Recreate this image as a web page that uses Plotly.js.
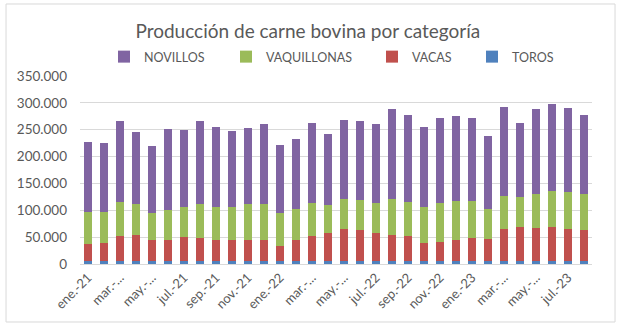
<!DOCTYPE html>
<html>
<head>
<meta charset="utf-8">
<script src="https://cdn.plot.ly/plotly-3.0.1.min.js"></script>
<style>html,body{margin:0;padding:0;background:#fff;}#chart{width:622px;height:330px;}</style>
</head>
<body>
<div id="chart"></div>
<script>
const months = ["ene.-21","feb.-21","mar.-21","abr.-21","may.-21","jun.-21","jul.-21","ago.-21","sep.-21","oct.-21","nov.-21","dic.-21",
"ene.-22","feb.-22","mar.-22","abr.-22","may.-22","jun.-22","jul.-22","ago.-22","sep.-22","oct.-22","nov.-22","dic.-22",
"ene.-23","feb.-23","mar.-23","abr.-23","may.-23","jun.-23","jul.-23","ago.-23"];
const tickVals = ["ene.-21","mar.-21","may.-21","jul.-21","sep.-21","nov.-21","ene.-22","mar.-22","may.-22","jul.-22","sep.-22","nov.-22","ene.-23","mar.-23","may.-23","jul.-23"];
const tickText = ["ene.-21","mar.-...","may.-...","jul.-21","sep.-21","nov.-21","ene.-22","mar.-...","may.-...","jul.-22","sep.-22","nov.-22","ene.-23","mar.-...","may.-...","jul.-23"];

const toros = [6000,6000,6500,6000,6000,6000,6000,6000,6000,6000,6000,6000,6000,6000,6000,6000,6000,6000,6000,6000,6000,6000,6000,6000,6000,6000,6000,6000,6000,6000,6000,6000];
const vacas = [31900,33700,46100,48600,38100,39300,44300,43000,39300,38100,38700,38700,28100,39300,46100,51700,59200,56700,52300,48000,46100,33100,34300,38700,43000,39900,58500,63500,61600,63500,59200,57300];
const vaquillonas = [58900,56500,62700,57100,51500,55200,55200,62700,60200,61400,66400,67000,60200,56500,61500,51500,55800,56500,54700,66400,62700,66400,72700,72600,68300,55900,62100,55200,62700,66400,68800,66400];
const novillos = [129700,129100,150800,134700,124100,151500,144600,154500,149500,142700,142100,149000,127200,131500,148300,133500,147100,146400,147700,168200,162600,148900,158800,158900,154500,136500,166300,138400,158300,161400,155800,147700];

const names = ["TOROS","VACAS","VAQUILLONAS","NOVILLOS"];
const series = [toros, vacas, vaquillonas, novillos];
const colors = ["#4F81BD","#C0504D","#9BBB59","#8064A2"];
const legendIds = ["legend4","legend3","legend2","legend"];
const legendX = [472, 372, 226, 104];

const traces = series.map((s, i) => ({
  type: "bar", x: months, y: s, name: names[i], legend: legendIds[i],
  marker: {color: colors[i]}, hoverinfo: "x+y+name"
}));

const font = "Lato, 'Open Sans', sans-serif";
const layout = {
  width: 622, height: 330,
  margin: {l: 80, r: 30, t: 76, b: 66},
  barmode: "stack", bargap: 0.5,
  separators: ",.",
  paper_bgcolor: "#fff", plot_bgcolor: "#fff",
  font: {family: font, color: "#595959", size: 13},
  title: {text: "Producción de carne bovina por categoría", x: 0.495, xanchor: "center", y: 0.905, yanchor: "middle",
          font: {size: 19, color: "#595959", family: font}},
  showlegend: true,
  xaxis: {type: "category", tickvals: tickVals, ticktext: tickText, tickangle: -45,
          showgrid: false, showline: true, linecolor: "#d9d9d9", ticks: "", tickfont: {size: 13, color: "#595959"}},
  yaxis: {range: [0, 350000], dtick: 50000, tickformat: ",d", showgrid: true, gridcolor: "#d9d9d9",
          zeroline: false, ticks: "", tickfont: {size: 13.5, color: "#595959"}, ticklabelstandoff: 12},
  shapes: [{type: "rect", xref: "paper", yref: "paper", x0: -0.1445, x1: 1.045, y0: -0.3085, y1: 1.383,
            line: {color: "#d9d9d9", width: 1}, fillcolor: "rgba(0,0,0,0)", layer: "below"}]
};
legendIds.forEach((id, i) => {
  layout[id] = {orientation: "h", xref: "container", yref: "container", x: legendX[i] / 622, xanchor: "left",
                y: 1 - 57 / 330, yanchor: "middle", itemwidth: 30, font: {size: 12.5, color: "#595959", family: font},
                bgcolor: "rgba(0,0,0,0)"};
});

Plotly.newPlot("chart", traces, layout, {displayModeBar: false, staticPlot: true});
</script>
</body>
</html>
